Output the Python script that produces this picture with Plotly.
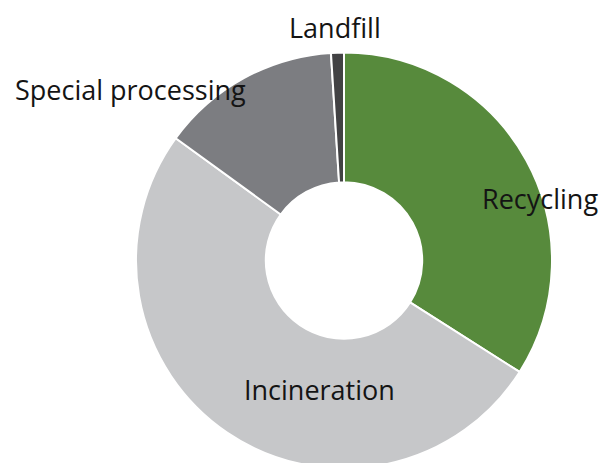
import plotly.graph_objects as go

categories = ["Recycling", "Incineration", "Special processing", "Landfill"]
values = [34, 51, 14, 1]
colors = ["#578a3c", "#c6c7c9", "#7c7d81", "#424244"]

W = 604
H = 469  # slightly taller than the 463 window so the donut's bottom edge is cropped as in the reference

# target donut geometry in page pixels
cx, cy, R = 344, 260.5, 208

fig = go.Figure(go.Pie(
    labels=categories,
    values=values,
    hole=0.376,
    sort=False,
    direction="clockwise",
    rotation=0,
    marker=dict(colors=colors, line=dict(color="white", width=2)),
    textinfo="none",
    hoverinfo="label+value",
    domain=dict(
        x=[(cx - R) / W, (cx + R) / W],
        y=[1 - (cy + R) / H, 1 - (cy - R) / H],
    ),
    showlegend=False,
))

label_pos = {
    "Landfill": (335, 28),
    "Special processing": (130, 89),
    "Recycling": (540, 198),
    "Incineration": (319, 389),
}
for name in categories:
    px, py = label_pos[name]
    fig.add_annotation(
        x=px / W, y=1 - py / H, xref="paper", yref="paper",
        text=name, showarrow=False, xanchor="center", yanchor="middle",
        font=dict(family="Open Sans, Noto Sans, sans-serif", size=27, color="#141414"),
    )

fig.update_layout(
    width=W, height=H,
    margin=dict(l=0, r=0, t=0, b=0),
    paper_bgcolor="white", plot_bgcolor="white",
)
fig.write_html(
    "out.html",
    config={"displayModeBar": False},
    post_script="document.body.style.margin='0';document.body.style.overflow='hidden';",
)
